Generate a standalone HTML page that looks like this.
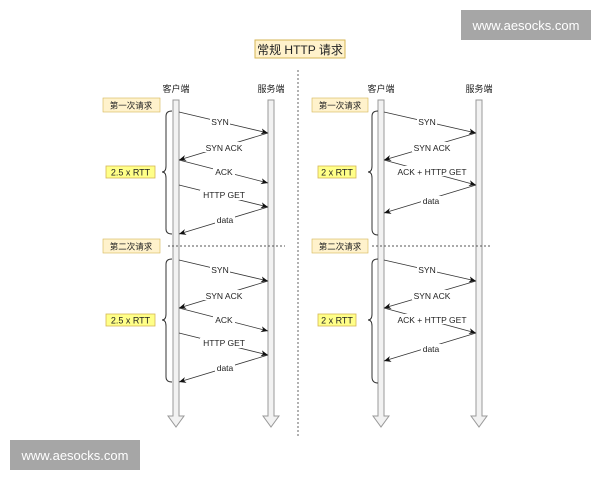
<!DOCTYPE html>
<html><head><meta charset="utf-8"><style>
body{margin:0;background:#fff;width:600px;height:480px;overflow:hidden}
text{font-family:"Liberation Sans","Noto Sans CJK SC",sans-serif;fill:#222}
</style></head><body>
<svg width="600" height="480" viewBox="0 0 600 480" xmlns="http://www.w3.org/2000/svg">
<defs>
<marker id="a" markerWidth="8" markerHeight="8" refX="7" refY="4" orient="auto" markerUnits="userSpaceOnUse"><path d="M0,1 L7,4 L0,7 L2,4 Z" fill="#111"/></marker>
<g id="life"><path d="M-3,0 H3 V316 H8 L0,327 L-8,316 H-3 Z" fill="#f2f2f2" stroke="#999" stroke-width="1"/></g>
</defs>
<rect x="461" y="10" width="130" height="30" fill="#a6a6a6"/>
<text x="526" y="30" font-size="13" text-anchor="middle" style="fill:#fff">www.aesocks.com</text>
<rect x="10" y="440" width="130" height="30" fill="#a6a6a6"/>
<text x="75" y="460" font-size="13" text-anchor="middle" style="fill:#fff">www.aesocks.com</text>

<rect x="255" y="40" width="90" height="18" fill="#fff2cc" stroke="#d6b656"/>
<text x="300" y="54" font-size="12" text-anchor="middle">常规 HTTP 请求</text>
<line x1="298" y1="70" x2="298" y2="437" stroke="#666" stroke-dasharray="2,2"/>

<g font-size="9">
<text x="176" y="92" text-anchor="middle" font-size="9">客户端</text>
<text x="271" y="92" text-anchor="middle" font-size="9">服务端</text>
<text x="381" y="92" text-anchor="middle" font-size="9">客户端</text>
<text x="479" y="92" text-anchor="middle" font-size="9">服务端</text>
</g>
<use href="#life" x="176" y="100"/>
<use href="#life" x="271" y="100"/>
<use href="#life" x="381" y="100"/>
<use href="#life" x="479" y="100"/>

<g font-size="8.5">
<rect x="103" y="98" width="57" height="14" fill="#fff2cc" stroke="#d6b656" stroke-width="0.6"/>
<text x="131" y="108.5" text-anchor="middle">第一次请求</text>
<rect x="312" y="98" width="56" height="14" fill="#fff2cc" stroke="#d6b656" stroke-width="0.6"/>
<text x="340" y="108.5" text-anchor="middle">第一次请求</text>
<rect x="103" y="239" width="57" height="14" fill="#fff2cc" stroke="#d6b656" stroke-width="0.6"/>
<text x="131" y="249.5" text-anchor="middle">第二次请求</text>
<rect x="312" y="239" width="56" height="14" fill="#fff2cc" stroke="#d6b656" stroke-width="0.6"/>
<text x="340" y="249.5" text-anchor="middle">第二次请求</text>
</g>
<line x1="168" y1="246" x2="285" y2="246" stroke="#555" stroke-dasharray="2,2"/>
<line x1="372" y1="246" x2="490" y2="246" stroke="#555" stroke-dasharray="2,2"/>

<g id="L">
<path d="M172,111 Q166,111 166,116 V166 Q166,172 162,172 Q166,172 166,178 V229 Q166,234 172,234" fill="none" stroke="#333"/>
<rect x="106" y="166" width="49" height="12" fill="#ffff88" stroke="#d6b656" stroke-width="0.8"/>
<text x="130.5" y="175.5" text-anchor="middle" font-size="9">2.5 x RTT</text>
<g stroke="#333" stroke-width="0.8" marker-end="url(#a)">
<line x1="179" y1="112" x2="268" y2="133"/>
<line x1="268" y1="133" x2="179" y2="160"/>
<line x1="179" y1="160" x2="268" y2="183"/>
<line x1="179" y1="185" x2="268" y2="207"/>
<line x1="268" y1="207" x2="179" y2="234"/>
</g>
<g font-size="8.5" text-anchor="middle">
<rect x="210" y="116" width="20" height="10" fill="#fff"/><text x="220" y="125">SYN</text>
<rect x="203" y="142" width="40" height="10" fill="#fff"/><text x="224" y="151">SYN ACK</text>
<rect x="213" y="166" width="22" height="10" fill="#fff"/><text x="224" y="175">ACK</text>
<rect x="200" y="190" width="46" height="10" fill="#fff"/><text x="224" y="198">HTTP GET</text>
<rect x="215" y="215" width="20" height="10" fill="#fff"/><text x="225" y="223">data</text>
</g>
</g>
<use href="#L" y="148"/>

<g id="R">
<path d="M378,111 Q372,111 372,116 V166 Q372,172 368,172 Q372,172 372,178 V229 Q372,235 378,235" fill="none" stroke="#333"/>
<rect x="318" y="166" width="38" height="12" fill="#ffff88" stroke="#d6b656" stroke-width="0.8"/>
<text x="337" y="175.5" text-anchor="middle" font-size="9">2 x RTT</text>
<g stroke="#333" stroke-width="0.8" marker-end="url(#a)">
<line x1="384" y1="112" x2="476" y2="133"/>
<line x1="476" y1="133" x2="384" y2="160"/>
<line x1="384" y1="160" x2="476" y2="185"/>
<line x1="476" y1="185" x2="384" y2="213"/>
</g>
<g font-size="8.5" text-anchor="middle">
<rect x="417" y="117" width="20" height="10" fill="#fff"/><text x="427" y="125">SYN</text>
<rect x="412" y="142" width="40" height="10" fill="#fff"/><text x="432" y="151">SYN ACK</text>
<rect x="395" y="166" width="74" height="10" fill="#fff"/><text x="432" y="175">ACK + HTTP GET</text>
<rect x="421" y="196" width="20" height="10" fill="#fff"/><text x="431" y="204">data</text>
</g>
</g>
<use href="#R" y="148"/>
</svg>
</body></html>
